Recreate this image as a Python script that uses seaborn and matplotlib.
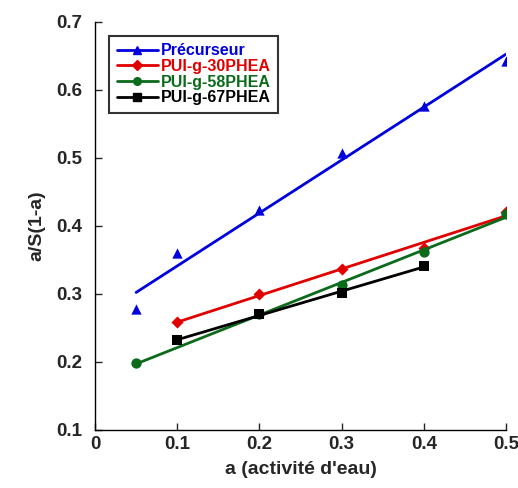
import matplotlib
matplotlib.use("Agg")
import matplotlib.pyplot as plt
from matplotlib.lines import Line2D
import seaborn as sns

# Configuration
sns.set_style("ticks")
plt.rcParams['font.family'] = ['Liberation Sans', 'DejaVu Sans']
plt.rcParams['font.weight'] = 'bold'

# ── Données ────────────────────────────────────────────────
series = ["Précurseur", "PUI-g-30PHEA", "PUI-g-58PHEA", "PUI-g-67PHEA"]

x_prec = [0.05, 0.1, 0.2, 0.3, 0.4, 0.5]
y_prec = [0.278, 0.360, 0.423, 0.507, 0.577, 0.642]

x_30 = [0.1, 0.2, 0.3, 0.4, 0.5]
y_30 = [0.259, 0.300, 0.337, 0.367, 0.421]

x_58 = [0.05, 0.2, 0.3, 0.4, 0.5]
y_58 = [0.199, 0.270, 0.313, 0.362, 0.417]

x_67 = [0.1, 0.2, 0.3, 0.4]
y_67 = [0.232, 0.271, 0.301, 0.341]

x_ticks = [0, 0.1, 0.2, 0.3, 0.4, 0.5]
x_ticklabels = ["0", "0.1", "0.2", "0.3", "0.4", "0.5"]
y_ticks = [0.1, 0.2, 0.3, 0.4, 0.5, 0.6, 0.7]
y_ticklabels = ["0.1", "0.2", "0.3", "0.4", "0.5", "0.6", "0.7"]

colors = ["#0000dd", "#e00000", "#0b6b1b", "#000000"]
markers = ["^", "D", "o", "s"]
sizes = [55, 38, 55, 55]

# ── Figure ─────────────────────────────────────────────────
fig = plt.figure(figsize=(5.18, 4.88), dpi=100)
ax = fig.add_axes([0.1834, 0.1189, 0.7936, 0.8361])

data = [(x_prec, y_prec), (x_30, y_30), (x_58, y_58), (x_67, y_67)]
for (xs, ys), c, m, s in zip(data, colors, markers, sizes):
    sns.regplot(x=xs, y=ys, ax=ax, ci=None, truncate=True, marker=m, color=c,
                scatter_kws={'s': s, 'alpha': 1, 'linewidths': 0, 'zorder': 3},
                line_kws={'linewidth': 2.0, 'zorder': 3})

ax.set_xlim(0, 0.5)
ax.set_ylim(0.1, 0.7)
ax.set_xticks(x_ticks)
ax.set_xticklabels(x_ticklabels)
ax.set_yticks(y_ticks)
ax.set_yticklabels(y_ticklabels)
ax.tick_params(axis='both', direction='in', length=5, width=1, labelsize=13.5)
ax.tick_params(axis='x', pad=4)
ax.tick_params(axis='y', pad=9)
for lab in ax.get_xticklabels() + ax.get_yticklabels():
    lab.set_fontweight('bold')

sns.despine(ax=ax)
for sp in ['left', 'bottom']:
    ax.spines[sp].set_linewidth(1)
    ax.spines[sp].set_color('black')

ax.set_xlabel("a (activité d'eau)", fontsize=14, fontweight='bold', labelpad=6)
ax.set_ylabel("a/S(1-a)", fontsize=14, fontweight='bold', labelpad=8)

# Légende
handles = [Line2D([0], [0], color=c, marker=m, markersize=5.5, linewidth=2.0)
           for c, m in zip(colors, markers)]
leg = ax.legend(handles, series, loc='upper left', bbox_to_anchor=(0.035, 0.965),
                borderaxespad=0, frameon=True, fancybox=False, handlelength=2.6,
                handletextpad=0.15, labelspacing=0.04, borderpad=0.45,
                prop={'weight': 'bold', 'size': 11.5})
leg.get_frame().set_edgecolor('black')
leg.get_frame().set_linewidth(1.5)
for txt, c in zip(leg.get_texts(), colors):
    txt.set_color(c)

fig.savefig("out.png", dpi=100)
plt.close(fig)
